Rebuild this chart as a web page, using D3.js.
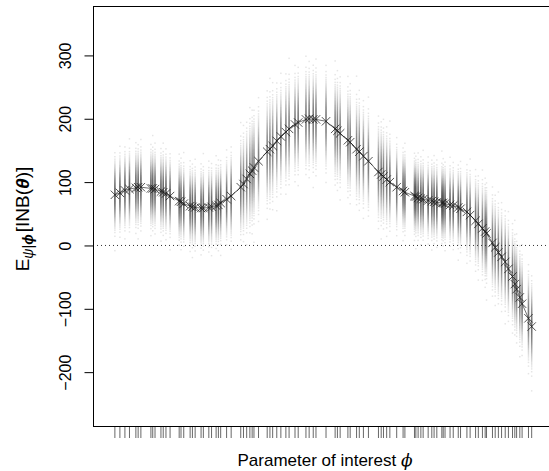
<!DOCTYPE html>
<html>
<head>
<meta charset="utf-8">
<script src="https://cdn.jsdelivr.net/npm/d3@7"></script>
<style>
  html, body { margin: 0; padding: 0; background: #fff; }
  svg { display: block; }
  text { font-family: "Liberation Sans", Arial, Helvetica, sans-serif; fill: #000; }
</style>
</head>
<body>
<svg id="chart" width="549" height="471"></svg>
<script>
// Values of the parameter of interest at which the inner expectation was simulated
const phi = [
  0.048, 0.059, 0.070, 0.080, 0.094, 0.099, 0.105, 0.127, 0.131, 0.136,
  0.149, 0.154, 0.160, 0.169, 0.189, 0.193, 0.199, 0.213, 0.218, 0.224,
  0.237, 0.242, 0.254, 0.260, 0.270, 0.275, 0.280, 0.293, 0.303, 0.324,
  0.330, 0.337, 0.344, 0.349, 0.353, 0.363, 0.382, 0.388, 0.394, 0.403,
  0.412, 0.423, 0.430, 0.443, 0.450, 0.467, 0.474, 0.483, 0.489, 0.511,
  0.531, 0.536, 0.542, 0.559, 0.564, 0.578, 0.584, 0.593, 0.604, 0.626,
  0.632, 0.637, 0.644, 0.651, 0.666, 0.680, 0.684, 0.705, 0.708, 0.713,
  0.719, 0.724, 0.735, 0.743, 0.748, 0.754, 0.765, 0.768, 0.772, 0.783,
  0.790, 0.801, 0.806, 0.820, 0.827, 0.839, 0.845, 0.854, 0.860, 0.863,
  0.876, 0.882, 0.889, 0.896, 0.904, 0.911, 0.920, 0.925, 0.929, 0.936,
  0.941, 0.955, 0.962
];

// Conditional expectation of the incremental net benefit at each phi
const inbMean = [
   80,  83,  87,  89,  91,  92,  92,  90,  90,  89,
   85,  84,  82,  78,  70,  69,  66,  62,  61,  60,
   59,  59,  60,  61,  63,  64,  67,  73,  78,  92,
   97, 105, 113, 118, 123, 133, 148, 152, 157, 165,
  172, 179, 184, 191, 194, 199, 200, 199, 199, 196,
  184, 181, 177, 166, 163, 152, 148, 141, 133, 116,
  112, 109, 104, 100,  92,  86,  84,  78,  77,  75,
   74,  73,  71,  70,  69,  68,  67,  67,  66,  64,
   63,  60,  58,  53,  48,  39,  34,  27,  22,  19,
    4,  -3, -11, -18, -26, -37, -49, -61, -69, -82,
  -92, -115, -128
];

// Spread (standard deviation) of the simulated INB values at each phi
const inbSpread = [
  25, 25, 25, 25, 25, 25, 25, 25, 25, 25,
  25, 25, 25, 25, 25, 25, 25, 25, 25, 25,
  25, 25, 25, 25, 25, 25, 25, 26, 28, 31,
  32, 33, 34, 34, 34, 34, 35, 35, 35, 34,
  33, 33, 33, 32, 32, 32, 32, 32, 32, 32,
  33, 33, 33, 33, 33, 33, 33, 32, 32, 31,
  31, 30, 30, 29, 27, 25, 25, 24, 24, 24,
  24, 24, 24, 24, 24, 24, 24, 24, 24, 24,
  24, 25, 25, 27, 27, 28, 28, 30, 30, 30,
  30, 30, 30, 30, 30, 30, 30, 30, 30, 30,
  30, 30, 30
];

const yTicks = [-200, -100, 0, 100, 200, 300];
const samplesPerPhi = 240;

const svg = d3.select("#chart");
const plot = { left: 93, top: 6, right: 549, bottom: 426 };

const x = d3.scaleLinear().domain([0, 1]).range([plot.left, plot.right]);
const y = d3.scaleLinear().domain([-285, 378]).range([plot.bottom, plot.top]);

// Inverse standard normal CDF (Acklam's rational approximation)
function qnorm(p) {
  const a = [-3.969683028665376e+01, 2.209460984245205e+02, -2.759285104469687e+02,
             1.383577518672690e+02, -3.066479806614716e+01, 2.506628277459239e+00];
  const b = [-5.447609879822406e+01, 1.615858368580409e+02, -1.556989798598866e+02,
             6.680131188771972e+01, -1.328068155288572e+01];
  const c = [-7.784894002430293e-03, -3.223964580411365e-01, -2.400758277161838e+00,
             -2.549732539343734e+00, 4.374664141464968e+00, 2.938163982698783e+00];
  const d = [7.784695709041462e-03, 3.224671290700398e-01, 2.445134137142996e+00,
             3.754408661907416e+00];
  const pl = 0.02425, ph = 1 - pl;
  let q, r;
  if (p < pl) {
    q = Math.sqrt(-2 * Math.log(p));
    return (((((c[0]*q+c[1])*q+c[2])*q+c[3])*q+c[4])*q+c[5]) /
           ((((d[0]*q+d[1])*q+d[2])*q+d[3])*q+1);
  }
  if (p <= ph) {
    q = p - 0.5; r = q * q;
    return (((((a[0]*r+a[1])*r+a[2])*r+a[3])*r+a[4])*r+a[5])*q /
           (((((b[0]*r+b[1])*r+b[2])*r+b[3])*r+b[4])*r+1);
  }
  q = Math.sqrt(-2 * Math.log(1 - p));
  return -(((((c[0]*q+c[1])*q+c[2])*q+c[3])*q+c[4])*q+c[5]) /
          ((((d[0]*q+d[1])*q+d[2])*q+d[3])*q+1);
}

// Each phi gets a column of INB values laid out on the normal quantiles;
// the quantile grid is shifted per column so the tails do not line up.
const cloud = [];
phi.forEach((p, i) => {
  const shift = (i * 0.6180339887) % 1;
  for (let k = 0; k < samplesPerPhi; k++) {
    const z = qnorm((k + 0.05 + 0.9 * shift) / samplesPerPhi);
    cloud.push({ phi: p, inb: inbMean[i] + inbSpread[i] * z });
  }
});

svg.append("defs").append("clipPath").attr("id", "plotclip")
  .append("rect")
  .attr("x", plot.left).attr("y", plot.top)
  .attr("width", plot.right - plot.left + 2).attr("height", plot.bottom - plot.top);

const pts = svg.append("g").attr("clip-path", "url(#plotclip)");
pts.selectAll("rect.pt")
  .data(cloud)
  .join("rect")
  .attr("class", "pt")
  .attr("x", d => x(d.phi) - 0.75)
  .attr("y", d => y(d.inb) - 0.75)
  .attr("width", 1.5)
  .attr("height", 1.5)
  .attr("fill", "rgba(0,0,0,0.1)");

// Dotted reference line at zero
svg.append("line")
  .attr("x1", plot.left).attr("x2", plot.right + 2)
  .attr("y1", y(0)).attr("y2", y(0))
  .attr("stroke", "#333")
  .attr("stroke-width", 1)
  .attr("stroke-dasharray", "1,3");

// Line through the conditional means
const series = phi.map((p, i) => ({ phi: p, inb: inbMean[i] }));
svg.append("path")
  .datum(series)
  .attr("fill", "none")
  .attr("stroke", "#333")
  .attr("stroke-width", 0.7)
  .attr("d", d3.line().x(d => x(d.phi)).y(d => y(d.inb)));

// Mean markers (crosses)
const s = 4.2;
svg.append("g").selectAll("path.mk")
  .data(series)
  .join("path")
  .attr("class", "mk")
  .attr("fill", "none")
  .attr("stroke", "rgba(25,25,25,0.75)")
  .attr("stroke-width", 1)
  .attr("d", d => {
    const cx = x(d.phi), cy = y(d.inb);
    return `M${cx - s},${cy - s}L${cx + s},${cy + s}M${cx - s},${cy + s}L${cx + s},${cy - s}`;
  });

// Plot frame
svg.append("rect")
  .attr("x", plot.left + 0.5).attr("y", plot.top + 0.5)
  .attr("width", plot.right - plot.left + 4).attr("height", plot.bottom - plot.top)
  .attr("fill", "none").attr("stroke", "#000").attr("stroke-width", 1);

// Rug of phi values below the frame
svg.append("g").selectAll("line.rug")
  .data(phi)
  .join("line")
  .attr("class", "rug")
  .attr("x1", d => x(d)).attr("x2", d => x(d))
  .attr("y1", plot.bottom + 0.5).attr("y2", plot.bottom + 12)
  .attr("stroke", "#000").attr("stroke-width", 0.6);

// Left axis with labels parallel to the axis
const yAxis = d3.axisLeft(y).tickValues(yTicks).tickSize(9).tickPadding(0).tickFormat(d3.format("d"));
const ga = svg.append("g").attr("transform", `translate(${plot.left + 0.5},0)`).call(yAxis);
ga.select(".domain").remove();
ga.selectAll(".tick line").attr("stroke", "#000");
ga.selectAll(".tick text")
  .attr("x", null).attr("dy", null)
  .attr("transform", "translate(-23,0) rotate(-90)")
  .attr("text-anchor", "middle")
  .attr("font-size", 16)
  .attr("font-family", "Liberation Sans, Arial, sans-serif")
  .text(d => d < 0 ? "\u2212" + Math.abs(d) : d);

// Axis titles
const xt = svg.append("text")
  .attr("x", (plot.left + plot.right) / 2 + 4)
  .attr("y", 466)
  .attr("text-anchor", "middle")
  .attr("font-size", 17);
xt.append("tspan").text("Parameter of interest ");
xt.append("tspan").attr("font-style", "italic").attr("font-family", "DejaVu Serif, serif").text("\u03d5");

const yt = svg.append("text")
  .attr("transform", `translate(29,${(plot.top + plot.bottom) / 2 + 3}) rotate(-90)`)
  .attr("text-anchor", "middle")
  .attr("font-size", 19);
yt.append("tspan").text("E");
yt.append("tspan").attr("font-size", 14).attr("dy", 4).attr("font-style", "italic").text("\u03c8");
yt.append("tspan").attr("font-size", 14).text("|");
yt.append("tspan").attr("font-size", 14).attr("font-weight", "bold").attr("font-style", "italic").text("\u03d5");
yt.append("tspan").attr("dy", -4).attr("dx", 2).text("[INB(");
yt.append("tspan").attr("font-weight", "bold").attr("font-style", "italic").text("\u03b8");
yt.append("tspan").text(")]");
</script>
</body>
</html>
